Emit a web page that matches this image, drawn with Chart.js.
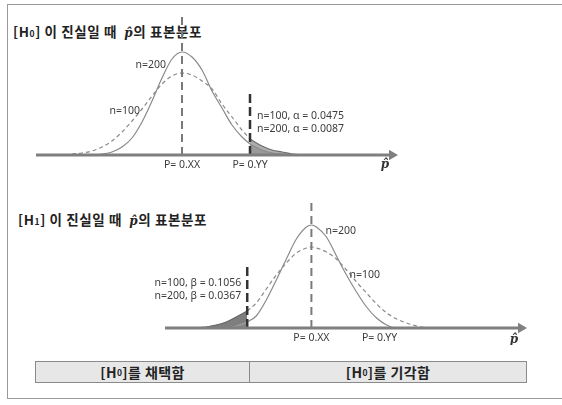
<!DOCTYPE html>
<html>
<head>
<meta charset="utf-8">
<script src="https://cdn.jsdelivr.net/npm/chart.js@4.4.1/dist/chart.umd.min.js"></script>
<style>
  body { margin: 0; background: #fff; }
  #wrap { position: relative; width: 562px; height: 405px; overflow: hidden; font-family: "Noto Sans CJK KR", "Noto Sans", sans-serif; }
  #frame { position: absolute; left: 7px; top: 4px; width: 620px; height: 395px; border: 1.5px solid #9a9a9a; box-sizing: border-box; }
  #c1 { position: absolute; left: 0; top: 0; }
  #c2 { position: absolute; left: 0; top: 185px; }
  .title { position: absolute; font-weight: bold; font-size: 13.5px; letter-spacing: 0.6px; color: #222; white-space: nowrap; line-height: 16px; }
  .title small, .cell small { font-size: 8.5px; font-weight: bold; }
  .ph { font-family: "DejaVu Serif", serif; font-style: italic; font-weight: bold; font-size: 12px; }
  .tbl { position: absolute; left: 35px; top: 361px; width: 492px; height: 22px; display: flex; border: 1px solid #8a8a8a; background: #e7e7e7; box-sizing: border-box; }
  .cell { display: flex; align-items: center; justify-content: center; font-weight: bold; font-size: 14px; letter-spacing: 0.4px; color: #222; }
  .cell + .cell { border-left: 1px solid #8a8a8a; }
</style>
</head>
<body>
<div id="wrap">
  <div id="frame"></div>
  <div class="title" style="left:13px; top:23px;">[H<small>0</small>] 이 진실일 때 &nbsp;<span class="ph">p̂</span>의 표본분포</div>
  <div class="title" style="left:18px; top:211px;">[H<small>1</small>] 이 진실일 때 &nbsp;<span class="ph">p̂</span>의 표본분포</div>
  <canvas id="c1" width="562" height="185"></canvas>
  <canvas id="c2" width="562" height="160"></canvas>
  <div class="tbl">
    <div class="cell" style="width:213px;">[H<small>0</small>]를 채택함</div>
    <div class="cell" style="flex:1;">[H<small>0</small>]를 기각함</div>
  </div>
</div>
<script>
// ---- top panel: sampling distribution when H0 is true ----
const topX       = [-110, -100, -90, -80, -70, -60, -50, -40, -30, -20, -10, 0, 10, 20, 30, 40, 50, 60, 68];
const topN200    = [0, 0, 0, 1, 3, 8, 17, 33, 54, 77, 96, 103, 98, 85, 64, 47, 30, 18, 11];
const topN100    = [1, 2, 4, 8, 14, 23, 34, 46, 59, 71, 79, 82, 80, 74, 66, 51, 38, 25, 16];
const topTailX    = [68, 80, 90, 100, 110, 120];
const topTailN200 = [11, 5, 2, 1, 0, 0];
const topTailN100 = [16, 9, 5, 3, 1, 0];
const topCrit = 68;
const topNotes = ['n=100, α = 0.0475', 'n=200, α = 0.0087'];

// ---- bottom panel: sampling distribution when H1 is true ----
const botX       = [-64, -55, -45, -35, -25, -15, -5, 0, 5, 15, 25, 35, 45, 55, 65, 75, 85, 95, 105, 115];
const botN200    = [6, 12, 28, 48, 69, 89, 101, 103, 101, 91, 72, 53, 36, 21, 10, 3, 0, 0, 0, 0];
const botN100    = [17, 25, 39, 53, 65, 75, 80, 81, 80, 76, 69, 58, 46, 35, 24, 15, 9, 5, 2, 0];
const botTailX    = [-115, -105, -95, -85, -75, -64];
const botTailN200 = [0, 0, 0, 0, 2, 6];
const botTailN100 = [0, 1, 3, 6, 11, 17];
const botCrit = -64;
const botNotes = ['n=100, β = 0.1056', 'n=200, β = 0.0367'];

// axis ticks
const tickValues = [0, 68];
const tickLabels = ['P= 0.XX', 'P= 0.YY'];

const pts = (xs, ys) => xs.map((x, i) => ({ x: x, y: ys[i] }));

const GREY = '#8a8a8a';
const labelFont = '10.5px "Noto Sans", "DejaVu Sans", sans-serif';

function notesPlugin(notes) {
  return {
    id: 'notes',
    afterDatasetsDraw(chart) {
      const { ctx, scales: { x, y } } = chart;
      ctx.save();
      notes.forEach(n => {
        ctx.font = n.font || labelFont;
        ctx.fillStyle = n.color || '#3c3c3c';
        ctx.textAlign = n.align || 'left';
        ctx.textBaseline = 'middle';
        ctx.fillText(n.text, x.getPixelForValue(n.x), y.getPixelForValue(n.y));
      });
      ctx.restore();
    }
  };
}

function panelDatasets(xs, n200, n100, tailX, tail200, tail100, crit, critTop, centreTop, shade, axisEnd) {
  return [
    { // x axis with arrow head
      data: [{ x: -146, y: 0 }, { x: axisEnd, y: 0 }],
      borderColor: '#7f7f7f', borderWidth: 3,
      pointRadius: [0, 6], pointStyle: 'triangle', pointRotation: 90,
      pointBackgroundColor: '#7f7f7f', pointBorderWidth: 0,
      clip: false, order: 0
    },
    { // critical value
      data: [{ x: crit, y: 0 }, { x: crit, y: critTop }],
      borderColor: '#333', borderWidth: 2.5, borderDash: [9, 4],
      pointRadius: 0, order: 1
    },
    { // centre
      data: [{ x: 0, y: 0 }, { x: 0, y: centreTop }],
      borderColor: '#7a7a7a', borderWidth: 2, borderDash: [8, 5],
      pointRadius: 0, order: 2
    },
    { // n=200
      data: pts(xs, n200), borderColor: GREY, borderWidth: 1.2,
      pointRadius: 0, cubicInterpolationMode: 'monotone', order: 3
    },
    { // n=100
      data: pts(xs, n100), borderColor: GREY, borderWidth: 1.2, borderDash: [4, 3],
      pointRadius: 0, cubicInterpolationMode: 'monotone', order: 4
    },
    { // n=200 tail
      data: pts(tailX, tail200), borderColor: shade.line200, borderWidth: 1,
      backgroundColor: shade.fill200, fill: 'origin',
      pointRadius: 0, cubicInterpolationMode: 'monotone', order: 5
    },
    { // n=100 tail
      data: pts(tailX, tail100), borderColor: shade.line100, borderWidth: 1.2,
      backgroundColor: shade.fill100, fill: 'origin',
      pointRadius: 0, cubicInterpolationMode: 'monotone', order: 6
    }
  ];
}

function makeChart(id, datasets, yMax, padding, notes) {
  return new Chart(document.getElementById(id), {
    type: 'line',
    data: { datasets: datasets },
    options: {
      responsive: false,
      animation: false,
      layout: { padding: padding },
      plugins: { legend: { display: false }, tooltip: { enabled: false } },
      scales: {
        x: { type: 'linear', display: false, min: -146, max: 215 },
        y: { display: false, min: 0, max: yMax }
      }
    },
    plugins: [notesPlugin(notes)]
  });
}

const hatFont = 'italic bold 12px "DejaVu Serif", serif';

makeChart('c1',
  panelDatasets(topX, topN200, topN100, topTailX, topTailN200, topTailN100, topCrit, 62, 139,
    { fill100: '#adadad', line100: '#6e6e6e', fill200: '#999', line200: '#888' }, 210),
  139, { left: 36, right: 165, top: 16, bottom: 30 },
  [
    { text: 'n=200', x: -16, y: 90, align: 'right' },
    { text: 'n=100', x: -42, y: 44, align: 'right' },
    { text: topNotes[0], x: 75, y: 39 },
    { text: topNotes[1], x: 75, y: 26 },
    { text: tickLabels[0], x: tickValues[0], y: -10, align: 'center' },
    { text: tickLabels[1], x: tickValues[1], y: -10, align: 'center' },
    { text: 'p̂', x: 203, y: -10, align: 'center', font: hatFont, color: '#333' }
  ]);

makeChart('c2',
  panelDatasets(botX, botN200, botN100, botTailX, botTailN200, botTailN100, botCrit, 63, 128,
    { fill100: '#7e7e7e', line100: '#666', fill200: '#8a8a8a', line200: '#a5a5a5' }, 209),
  128, { left: 165, right: 35, top: 15, bottom: 17 },
  [
    { text: 'n=200', x: 14, y: 97 },
    { text: 'n=100', x: 38, y: 53 },
    { text: botNotes[0], x: -70, y: 45, align: 'right' },
    { text: botNotes[1], x: -70, y: 32, align: 'right' },
    { text: tickLabels[0], x: tickValues[0], y: -10, align: 'center' },
    { text: tickLabels[1], x: tickValues[1], y: -10, align: 'center' },
    { text: 'p̂', x: 202, y: -12, align: 'center', font: hatFont, color: '#333' }
  ]);
</script>
</body>
</html>
